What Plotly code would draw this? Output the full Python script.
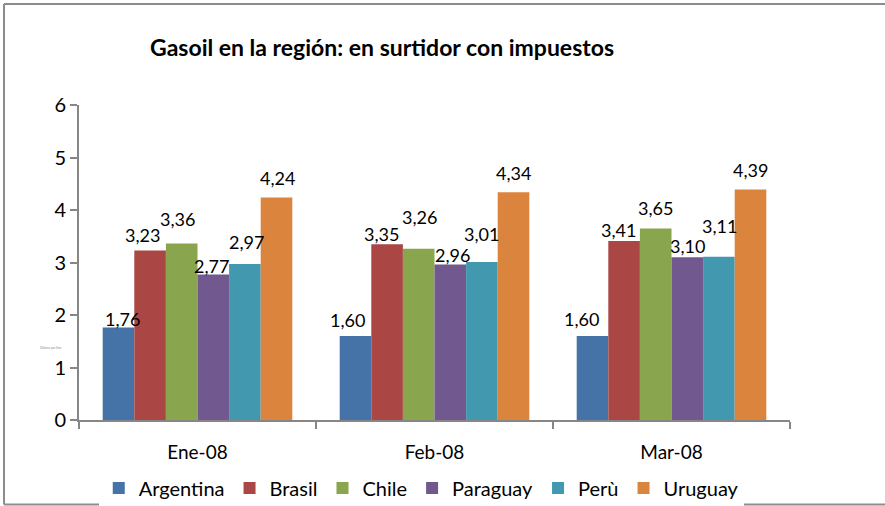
import plotly.graph_objects as go

categories = ["Ene-08", "Feb-08", "Mar-08"]
countries = ["Argentina", "Brasil", "Chile", "Paraguay", "Perù", "Uruguay"]
argentina = [1.76, 1.60, 1.60]
brasil = [3.23, 3.35, 3.41]
chile = [3.36, 3.26, 3.65]
paraguay = [2.77, 2.96, 3.10]
peru = [2.97, 3.01, 3.11]
uruguay = [4.24, 4.34, 4.39]
series = [argentina, brasil, chile, paraguay, peru, uruguay]
y_ticks = [0, 1, 2, 3, 4, 5, 6]

colors = ["#4572A7", "#AA4643", "#89A54E", "#71588F", "#4198AF", "#DB843D"]

# label placement tweaks (pixels) mimicking the original's staggered labels
label_dy = [[8, 15, 16], [14, 9, 10], [24, 31, 19], [8, 9, 10], [21, 27, 30], [18, 18, 19]]
label_dx = [[4, -8, -11], [-8, -6, -6], [-4, 1, 0], [-2, 2, 0], [2, 0, 1], [1, 0, 0]]

FONT = "Lato"
fig = go.Figure()
for name, vals, col in zip(countries, series, colors):
    fig.add_trace(go.Bar(name=name, x=categories, y=vals, marker_color=col,
                         marker_line_width=0))

bargap = 0.2
nser = len(series)
bw = (1 - bargap) / nser
annotations = []
for i, vals in enumerate(series):
    for j, v in enumerate(vals):
        xc = j - (1 - bargap) / 2 + (i + 0.5) * bw
        annotations.append(dict(
            x=xc, y=v, xref="x", yref="y", text=f"{v:.2f}".replace(".", ","),
            showarrow=False, xanchor="center", yanchor="middle",
            xshift=label_dx[i][j], yshift=label_dy[i][j] + 1,
            font=dict(family=FONT, size=18, color="#000000")))

annotations.append(dict(x=-0.058, y=0.216, xref="paper", yref="paper",
                        text="Dólares por litro", showarrow=False,
                        font=dict(family=FONT, size=3, color="#888888")))

# chart frame (left, top, bottom edges; right edge is outside the picture)
fx0, fx1 = (4 - 79) / 711, (885 - 79) / 711
fy0, fy1 = (420 - 504.5) / 315, (420 - 4) / 315
frame_line = dict(color="#8c8c8c", width=2)
frame = [
    dict(type="line", xref="paper", yref="paper", x0=fx0, x1=fx0, y0=fy0, y1=fy1, line=frame_line),
    dict(type="line", xref="paper", yref="paper", x0=fx0, x1=fx1, y0=fy1, y1=fy1, line=frame_line),
    dict(type="line", xref="paper", yref="paper", x0=fx0, x1=fx1, y0=fy0, y1=fy0, line=frame_line),
]

fig.update_layout(
    width=885, height=506,
    margin=dict(l=79, r=95, t=105, b=86, autoexpand=False),
    paper_bgcolor="white", plot_bgcolor="white",
    barmode="group", bargap=bargap, bargroupgap=0,
    title=dict(text="<b>Gasoil en la región: en surtidor con impuestos</b>",
               x=382 / 885, xanchor="center", y=1 - 48 / 506, yanchor="middle",
               font=dict(family=FONT, size=23, color="#000000")),
    font=dict(family=FONT, size=18, color="#000000"),
    showlegend=True,
    legend=dict(orientation="h", x=426 / 885, xanchor="center",
                y=-(488 - 420) / 315, yanchor="middle",
                font=dict(family=FONT, size=20, color="#000000"),
                itemwidth=30, traceorder="normal"),
    annotations=annotations,
    shapes=frame,
)
fig.update_xaxes(type="category", showline=True, linecolor="#868686", linewidth=2,
                 ticks="outside", tickson="boundaries", ticklen=7, tickcolor="#868686",
                 tickwidth=2, showgrid=False, zeroline=False, ticklabelstandoff=14,
                 tickfont=dict(family=FONT, size=19, color="#000000"))
fig.update_yaxes(range=[0, 6], tickvals=y_ticks, ticktext=[str(t) for t in y_ticks],
                 showline=True, linecolor="#868686", linewidth=2,
                 ticks="outside", ticklen=7, tickcolor="#868686", tickwidth=2,
                 showgrid=False, zeroline=False,
                 tickfont=dict(family=FONT, size=20, color="#000000"))

fig.write_html("out.html", config={"displayModeBar": False},
               post_script="document.body.style.margin='0';document.body.style.padding='0';"
                           "document.body.style.overflow='hidden';"
                           "document.documentElement.style.overflow='hidden';")
